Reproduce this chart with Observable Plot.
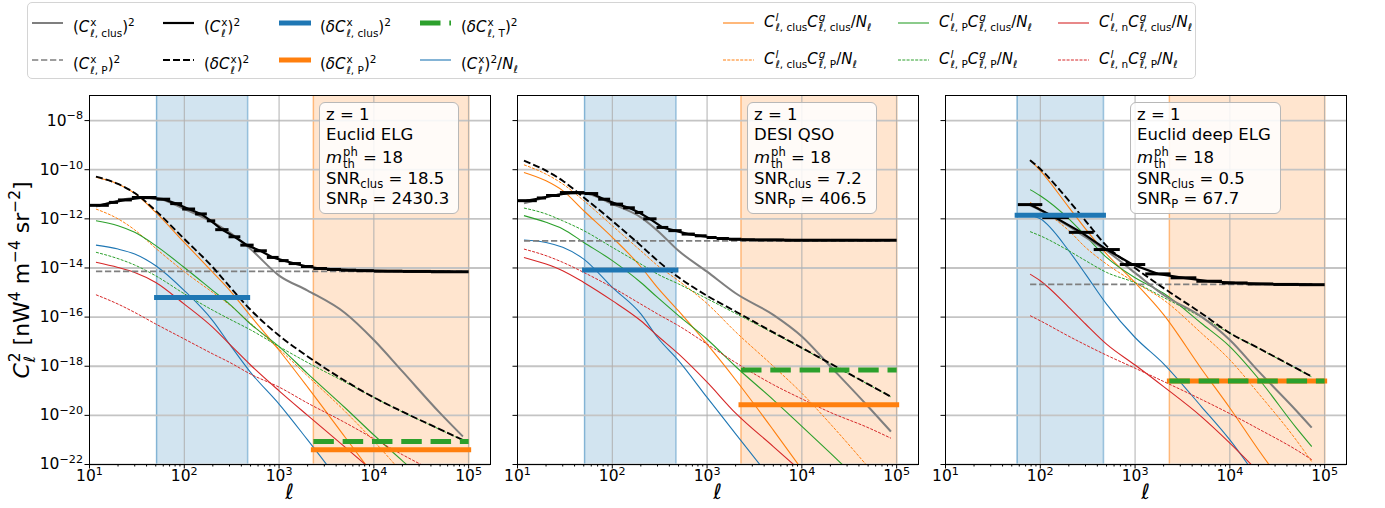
<!DOCTYPE html>
<html><head><meta charset="utf-8">
<script src="https://cdn.jsdelivr.net/npm/d3@7"></script>
<script src="https://cdn.jsdelivr.net/npm/@observablehq/plot@0.6"></script>
<style>
body{margin:0;background:#fff;font-family:"DejaVu Sans",sans-serif;}
#root{position:relative;width:1385px;height:508px;overflow:hidden;background:#fff;}
.abs{position:absolute;white-space:nowrap;color:#000;}
.ss{display:inline-flex;flex-direction:column;font-size:0.7em;line-height:1;vertical-align:0.6em;margin-left:1px;}
.sp{font-size:0.7em;vertical-align:0.6em;}
.sb{font-size:0.7em;vertical-align:-0.35em;}
.leg{position:absolute;left:27px;top:2px;width:1167px;height:75px;border:1px solid #d4d4d4;border-radius:5px;background:#fff;}
.lab{font-size:15px;line-height:24px;}
.box{position:absolute;top:102px;border:1px solid #b8b8b8;border-radius:6px;background:rgba(255,255,255,0.85);padding:2px 9px 4px 6px;font-size:16.5px;line-height:20px;white-space:nowrap;}
.box div{height:20px;}
.box .tall{height:24px;line-height:26px;}
.xl{position:absolute;top:480px;font-size:21px;font-style:italic;transform:translateX(-50%);}
.yl{position:absolute;left:22px;top:280px;font-size:22px;transform:translate(-50%,-50%) rotate(-90deg);white-space:nowrap;}
</style>
</head><body>
<div id="root"></div>
<script>
// ---------------- DATA (values are log10 of C_ell^2 in nW^4 m^-4 sr^-2) ----------------
const ELL_A = [11.7, 20, 30, 50, 100, 200, 300, 500, 1000, 2000, 5000, 1e4, 2e4, 5e4, 8.7e4];
const ELL_B = [78, 100, 200, 300, 500, 1000, 2000, 5000, 1e4, 2e4, 5e4, 7.3e4];

// binned (C^x)^2, bin lower edges
const BIN_A = [10, 16, 20, 28, 51, 71, 95, 130, 173, 212, 293, 390, 539, 743, 990, 1260, 1700, 2300, 3200, 4500, 6500, 1e4, 2e4, 4e4];
const BIN_B = [58, 105, 200, 366, 690, 1280, 2370, 4430, 8250, 15400, 28700, 53500];
const BIN_END = 1e5;

// Panel 1: Euclid ELG
const p1_clus = [-11.5, -11.26, -11.15, -11.17, -11.6, -12.14, -12.55, -13.23, -14.31, -14.92, -15.84, -16.93, -18.21, -19.91, -20.86];
const p1_P = -14.14;
const p1_C = [-11.45, -11.33, -11.23, -11.13, -11.2, -11.38, -11.6, -11.8, -12.08, -12.44, -12.73, -13.07, -13.3, -13.57, -13.7, -13.82, -13.94, -14.02, -14.06, -14.09, -14.11, -14.13, -14.14, -14.15];
const p1_dC = [-10.28, -10.58, -10.95, -11.67, -12.82, -13.97, -14.75, -15.7, -16.75, -17.6, -18.6, -19.27, -19.85, -20.57, -21.0];
const p1_oo = [-10.31, -10.58, -10.96, -11.74, -12.96, -14.18, -14.9, -15.95, -17.35, -18.85, -20.9, -22.45, null, null, null];
const p1_oP = [-11.6, -12.0, -12.45, -13.2, -14.15, -15.0, -15.5, -16.25, -17.3, -18.4, -19.85, -21.05, -22.35, null, null];
const p1_go = [-12.08, -12.28, -12.55, -13.09, -13.98, -14.92, -15.47, -16.28, -17.2, -18.3, -19.7, -20.8, -21.85, -23.2, null];
const p1_gP = [-13.36, -13.62, -13.88, -14.32, -15.05, -15.72, -16.08, -16.52, -17.2, -17.85, -18.65, -19.27, -19.86, -20.58, -21.02];
const p1_ro = [-13.77, -13.98, -14.18, -14.59, -15.47, -16.42, -17.1, -17.95, -19.0, -20.0, -21.3, -22.3, null, null, null];
const p1_rP = [-15.09, -15.47, -15.81, -16.28, -16.89, -17.5, -17.84, -18.32, -18.85, -19.5, -20.3, -20.95, -21.6, -22.4, null];
const p1_bl = [-13.07, -13.23, -13.43, -13.91, -14.92, -16.15, -17.1, -18.25, -19.54, -21.0, -23.0, null, null, null, null];
const p1_err = {clus: -15.2, P: -21.4, T: -21.06};
const p1_bands = {clus: [51, 466], P: [2300, 1e5]};

// Panel 2: DESI QSO
const p2_clus = [-11.37, -11.13, -10.99, -10.96, -11.4, -11.94, -12.48, -13.3, -14.15, -15.03, -15.91, -16.79, -18.01, -19.64, -20.66];
const p2_P = -12.9;
const p2_C = [-11.26, -11.15, -11.05, -10.93, -10.97, -11.2, -11.4, -11.55, -11.74, -12.0, -12.35, -12.48, -12.62, -12.69, -12.76, -12.8, -12.83, -12.85, -12.86, -12.86, -12.87, -12.87, -12.87, -12.87];
const p2_dC = [-9.63, -10.04, -10.45, -11.13, -12.08, -13.09, -13.7, -14.38, -15.13, -15.77, -16.62, -17.25, -17.89, -18.73, -19.24];
const p2_oo = [-10.11, -10.45, -10.85, -11.67, -12.75, -13.95, -14.8, -15.75, -17.1, -18.55, -20.6, -22.2, null, null, null];
const p2_oP = [-9.8, -10.18, -10.58, -11.26, -12.28, -13.3, -13.9, -14.52, -15.45, -16.6, -18.0, -19.1, -20.35, -22.1, null];
const p2_go = [-11.87, -12.14, -12.41, -12.96, -13.7, -14.59, -15.2, -15.94, -16.9, -18.01, -19.37, -20.45, -21.54, -23.0, null];
const p2_gP = [-11.56, -11.8, -12.08, -12.48, -13.16, -13.84, -14.25, -14.65, -15.25, -15.85, -16.65, -17.27, -17.9, -18.74, -19.25];
const p2_ro = [-13.57, -13.84, -14.11, -14.59, -15.33, -16.15, -16.76, -17.5, -18.65, -19.91, -21.27, -22.3, null, null, null];
const p2_rP = [-13.23, -13.5, -13.77, -14.18, -14.79, -15.47, -15.87, -16.35, -17.1, -17.85, -18.75, -19.33, -19.88, -20.5, -20.93];
const p2_bl = [-12.86, -12.96, -13.16, -13.64, -14.79, -15.87, -16.83, -17.77, -19.27, -20.75, -22.7, null, null, null, null];
const p2_err = {clus: -14.08, P: -19.57, T: -18.15};
const p2_bands = {clus: [51, 469], P: [2280, 1e5]};

// Panel 3: Euclid deep ELG
const p3_clus = [-11.45, -11.65, -12.3, -12.75, -13.3, -14.2, -15.1, -15.98, -16.93, -18.2, -19.8, -20.5];
const p3_P = -14.67;
const p3_C = [-11.42, -11.95, -12.55, -13.25, -13.86, -14.24, -14.4, -14.54, -14.61, -14.65, -14.67, -14.68];
const p3_dC = [-9.61, -9.97, -11.26, -12.08, -13.1, -14.0, -14.82, -15.84, -16.65, -17.26, -18.08, -18.42];
const p3_oo = [-9.61, -10.04, -11.53, -12.41, -13.43, -14.6, -15.9, -18.1, -19.7, -21.4, -23.5, null];
const p3_oP = [-11.33, -11.6, -12.48, -13.16, -13.84, -14.59, -15.3, -16.65, -17.74, -19.1, -21.0, -21.88];
const p3_go = [-10.81, -11.06, -12.0, -12.69, -13.57, -14.4, -15.03, -16.25, -17.2, -18.5, -20.5, -21.27];
const p3_gP = [-12.52, -12.69, -13.3, -13.7, -14.18, -14.6, -15.2, -16.0, -16.66, -17.27, -18.09, -18.43];
const p3_ro = [-14.25, -14.52, -15.6, -16.28, -17.1, -17.95, -18.83, -20.05, -21.13, -22.3, null, null];
const p3_rP = [-15.94, -16.15, -16.78, -17.13, -17.55, -18.08, -18.62, -19.35, -19.93, -20.55, -21.4, -21.8];
const p3_bl = [-11.85, -12.0, -13.3, -14.25, -15.47, -16.83, -17.9, -19.64, -21.0, -22.6, null, null];
const p3_err = {clus: -11.85, P: -18.6, T: -18.6};
const p3_bands = {clus: [57, 464], P: [2300, 1e5]};

// annotation text
const redshift = 1;
const mThreshold = 18;
const surveys = ["Euclid ELG", "DESI QSO", "Euclid deep ELG"];
const snrClus = [18.5, 7.2, 0.5];
const snrP = [2430.3, 406.5, 67.7];

// axis ticks
const xMajor = [10, 100, 1e3, 1e4, 1e5];
const yMajor = [1e-22, 1e-20, 1e-18, 1e-16, 1e-14, 1e-12, 1e-10, 1e-8];

// legend labels (HTML)
const ss = (a, b) => `<span class="ss"><span>${a}</span><span>${b}</span></span>`;
const L = "<i>ℓ</i>";
const legendLabels = {
  clus: `(<i>C</i>${ss("x", L + ", clus")})<span class="sp">2</span>`,
  P: `(<i>C</i>${ss("x", L + ", P")})<span class="sp">2</span>`,
  C: `(<i>C</i>${ss("x", L)})<span class="sp">2</span>`,
  dC: `(<i>δC</i>${ss("x", L)})<span class="sp">2</span>`,
  bClus: `(<i>δC</i>${ss("x", L + ", clus")})<span class="sp">2</span>`,
  bP: `(<i>δC</i>${ss("x", L + ", P")})<span class="sp">2</span>`,
  bT: `(<i>δC</i>${ss("x", L + ", T")})<span class="sp">2</span>`,
  bl: `(<i>C</i>${ss("x", L)})<span class="sp">2</span>/<i>N</i><span class="sb">${L}</span>`,
  oo: `<i>C</i>${ss("<i>l</i>", L + ", clus")}<i>C</i>${ss("<i>g</i>", L + ", clus")}/<i>N</i><span class="sb">${L}</span>`,
  oP: `<i>C</i>${ss("<i>l</i>", L + ", clus")}<i>C</i>${ss("<i>g</i>", L + ", P")}/<i>N</i><span class="sb">${L}</span>`,
  go: `<i>C</i>${ss("<i>l</i>", L + ", P")}<i>C</i>${ss("<i>g</i>", L + ", clus")}/<i>N</i><span class="sb">${L}</span>`,
  gP: `<i>C</i>${ss("<i>l</i>", L + ", P")}<i>C</i>${ss("<i>g</i>", L + ", P")}/<i>N</i><span class="sb">${L}</span>`,
  ro: `<i>C</i>${ss("<i>l</i>", L + ", n")}<i>C</i>${ss("<i>g</i>", L + ", clus")}/<i>N</i><span class="sb">${L}</span>`,
  rP: `<i>C</i>${ss("<i>l</i>", L + ", n")}<i>C</i>${ss("<i>g</i>", L + ", P")}/<i>N</i><span class="sb">${L}</span>`
};

// ---------------- STYLES ----------------
const ST = {
  clus: {stroke: "#7f7f7f", w: 2},
  P: {stroke: "#7f7f7f", w: 1.7, dash: "6.3,2.7"},
  C: {stroke: "#000", w: 2.2},
  dC: {stroke: "#000", w: 1.9, dash: "7,3"},
  bClus: {stroke: "#1f77b4", w: 5, cap: "square"},
  bP: {stroke: "#ff7f0e", w: 5, cap: "square"},
  bT: {stroke: "#2ca02c", w: 5, dash: "20.5,8.8"},
  bl: {stroke: "#1f77b4", w: 1.1},
  oo: {stroke: "#ff7f0e", w: 1.1},
  oP: {stroke: "#ff7f0e", w: 1, dash: "3,1.3"},
  go: {stroke: "#2ca02c", w: 1.1},
  gP: {stroke: "#2ca02c", w: 1, dash: "3,1.3"},
  ro: {stroke: "#d62728", w: 1.1},
  rP: {stroke: "#d62728", w: 1, dash: "3,1.3"}
};

const root = document.getElementById("root");
const FR = {top: 95, h: 369, w: 401};
const frameLefts = [89, 517, 945];
const boxLefts = [319, 747, 1130];
const X_DOMAIN = [10, 1.7e5];
const Y_DOMAIN = [1e-22, 1.05e-7];

const pow = v => 10 ** v;
const series = (ell, vals) => ell.map((l, k) => ({l, v: vals[k] == null ? NaN : pow(vals[k])}));
const fmtPow = d => { const e = Math.round(Math.log10(d)); return "10^" + (e < 0 ? "−" + (-e) : e); };

function lineMark(data, key) {
  const s = ST[key];
  return Plot.line(data, {x: "l", y: "v", stroke: s.stroke, strokeWidth: s.w, strokeDasharray: s.dash,
    strokeLinecap: s.cap || "butt", curve: "monotone-x", clip: true});
}

function panel(idx, P) {
  const mL = idx === 0 ? 89 : 14, mR = 14, mT = 10, mB = 30;
  const minor = [];
  for (let e = 1; e <= 5; e++) for (let k = 2; k <= 9; k++) { const v = k * 10 ** e; if (v < X_DOMAIN[1]) minor.push(v); }
  const bins = P.binLo.map((lo, k) => ({lo, hi: k + 1 < P.binLo.length ? P.binLo[k + 1] : BIN_END, v: pow(P.C[k])}));
  const centers = bins.map(b => ({l: Math.sqrt(b.lo * b.hi), v: b.v}));
  const first = P.ell[0], last = P.ell[P.ell.length - 1];
  const marks = [
    Plot.rect([P.bands.clus], {x1: d => d[0], x2: d => d[1], y1: Y_DOMAIN[0], y2: Y_DOMAIN[1], fill: "#1f77b4", fillOpacity: 0.2}),
    Plot.ruleX(P.bands.clus, {stroke: "#1f77b4", strokeOpacity: 0.45, strokeWidth: 1.5}),
    Plot.rect([P.bands.P], {x1: d => d[0], x2: d => d[1], y1: Y_DOMAIN[0], y2: Y_DOMAIN[1], fill: "#ff7f0e", fillOpacity: 0.2}),
    Plot.ruleX(P.bands.P, {stroke: "#ff7f0e", strokeOpacity: 0.45, strokeWidth: 1.5}),
    Plot.gridY({ticks: yMajor, stroke: "#c4c4c4", strokeOpacity: 1, strokeWidth: 1.8}),
    Plot.gridX({ticks: xMajor, stroke: "#b0b0b0", strokeOpacity: 1, strokeWidth: 1}),
    lineMark(series(P.ell, P.bl), "bl"),
    lineMark(series(P.ell, P.oo), "oo"),
    lineMark(series(P.ell, P.oP), "oP"),
    lineMark(series(P.ell, P.go), "go"),
    lineMark(series(P.ell, P.gP), "gP"),
    lineMark(series(P.ell, P.ro), "ro"),
    lineMark(series(P.ell, P.rP), "rP"),
    lineMark(series(P.ell, P.clus), "clus"),
    lineMark([{l: first, v: pow(P.Pv)}, {l: last, v: pow(P.Pv)}], "P"),
    Plot.link(bins, {x1: "lo", x2: "hi", y1: "v", y2: "v", stroke: "#000", strokeWidth: 3, clip: true}),
    Plot.line(centers, {x: "l", y: "v", stroke: "#000", strokeWidth: ST.C.w, clip: true}),
    lineMark(series(P.ell, P.dC), "dC"),
    lineMark([{l: P.bands.clus[0], v: pow(P.err.clus)}, {l: P.bands.clus[1], v: pow(P.err.clus)}], "bClus"),
    lineMark([{l: P.bands.P[0], v: pow(P.err.P)}, {l: P.bands.P[1], v: pow(P.err.P)}], "bP"),
    lineMark([{l: P.bands.P[0], v: pow(P.err.T)}, {l: P.bands.P[1], v: pow(P.err.T)}], "bT"),
    Plot.frame({stroke: "#000", strokeWidth: 1}),
    Plot.axisX({ticks: minor, tickSize: 2.5, tickFormat: () => "", label: null}),
    Plot.axisX({ticks: xMajor, tickSize: 4.5, tickPadding: 1, tickFormat: fmtPow, label: null}),
    Plot.axisY({ticks: yMajor, tickSize: 4.5, tickPadding: 2, tickFormat: idx === 0 ? fmtPow : () => "", label: null})
  ];
  const svg = Plot.plot({
    width: mL + FR.w + mR, height: mT + FR.h + mB,
    marginLeft: mL, marginRight: mR, marginTop: mT, marginBottom: mB,
    style: {background: "transparent", fontFamily: "DejaVu Sans", fontSize: "15.5px", overflow: "visible", color: "#000"},
    x: {type: "log", domain: X_DOMAIN},
    y: {type: "log", domain: Y_DOMAIN},
    marks
  });
  d3.select(svg).selectAll("text").each(function () {
    const t = this.textContent; const i = t.indexOf("^");
    if (i < 0) return;
    const sel = d3.select(this); sel.text(null);
    sel.append("tspan").text(t.slice(0, i));
    sel.append("tspan").attr("dy", "-0.55em").attr("font-size", "0.72em").text(t.slice(i + 1));
  });
  svg.style.position = "absolute";
  svg.style.left = (frameLefts[idx] - mL) + "px";
  svg.style.top = (FR.top - mT) + "px";
  root.appendChild(svg);

  const xl = document.createElement("div");
  xl.className = "xl"; xl.style.left = (frameLefts[idx] + FR.w / 2) + "px";
  xl.textContent = "ℓ";
  root.appendChild(xl);

  const box = document.createElement("div");
  box.className = "box"; box.style.left = boxLefts[idx] + "px";
  box.innerHTML = `<div>z = ${redshift}</div><div>${surveys[idx]}</div>` +
    `<div class="tall"><i>m</i>${ss("ph", "th")} = ${mThreshold}</div>` +
    `<div>SNR<span class="sb">clus</span> = ${snrClus[idx]}</div>` +
    `<div>SNR<span class="sb">P</span> = ${snrP[idx]}</div>`;
  root.appendChild(box);
}

panel(0, {ell: ELL_A, binLo: BIN_A, C: p1_C, clus: p1_clus, Pv: p1_P, dC: p1_dC, oo: p1_oo, oP: p1_oP, go: p1_go, gP: p1_gP, ro: p1_ro, rP: p1_rP, bl: p1_bl, err: p1_err, bands: p1_bands});
panel(1, {ell: ELL_A, binLo: BIN_A, C: p2_C, clus: p2_clus, Pv: p2_P, dC: p2_dC, oo: p2_oo, oP: p2_oP, go: p2_go, gP: p2_gP, ro: p2_ro, rP: p2_rP, bl: p2_bl, err: p2_err, bands: p2_bands});
panel(2, {ell: ELL_B, binLo: BIN_B, C: p3_C, clus: p3_clus, Pv: p3_P, dC: p3_dC, oo: p3_oo, oP: p3_oP, go: p3_go, gP: p3_gP, ro: p3_ro, rP: p3_rP, bl: p3_bl, err: p3_err, bands: p3_bands});

const yl = document.createElement("div");
yl.className = "yl";
yl.innerHTML = `<i>C</i>${ss("2", L)} [nW<span class="sp">4</span> m<span class="sp">−4</span> sr<span class="sp">−2</span>]`;
root.appendChild(yl);

const leg = document.createElement("div");
leg.className = "leg"; root.appendChild(leg);
const legendCols = [["clus", "P"], ["C", "dC"], ["bClus", "bP"], ["bT", "bl"], ["oo", "oP"], ["go", "gP"], ["ro", "rP"]];
const colX = [32, 163, 279, 420, 723, 898, 1058];
const rowY = [20, 57];
legendCols.forEach((col, c) => col.forEach((key, r) => {
  const s = ST[key];
  const h = document.createElement("div");
  h.className = "abs";
  h.style.left = colX[c] + "px"; h.style.top = (rowY[r] - 6) + "px";
  h.innerHTML = `<svg width="32" height="12"><line x1="${s.cap ? 2.5 : 0}" x2="${s.cap ? 29.5 : 31}" y1="6" y2="6" stroke="${s.stroke}" stroke-width="${s.w}" ${s.dash ? `stroke-dasharray="${s.dash}"` : ""} stroke-linecap="${s.cap || "butt"}"/></svg>`;
  root.appendChild(h);
  const t = document.createElement("div");
  t.className = "abs lab";
  t.style.left = (colX[c] + 41) + "px"; t.style.top = (rowY[r] - 10) + "px";
  t.innerHTML = legendLabels[key];
  root.appendChild(t);
}));
</script>
</body></html>
